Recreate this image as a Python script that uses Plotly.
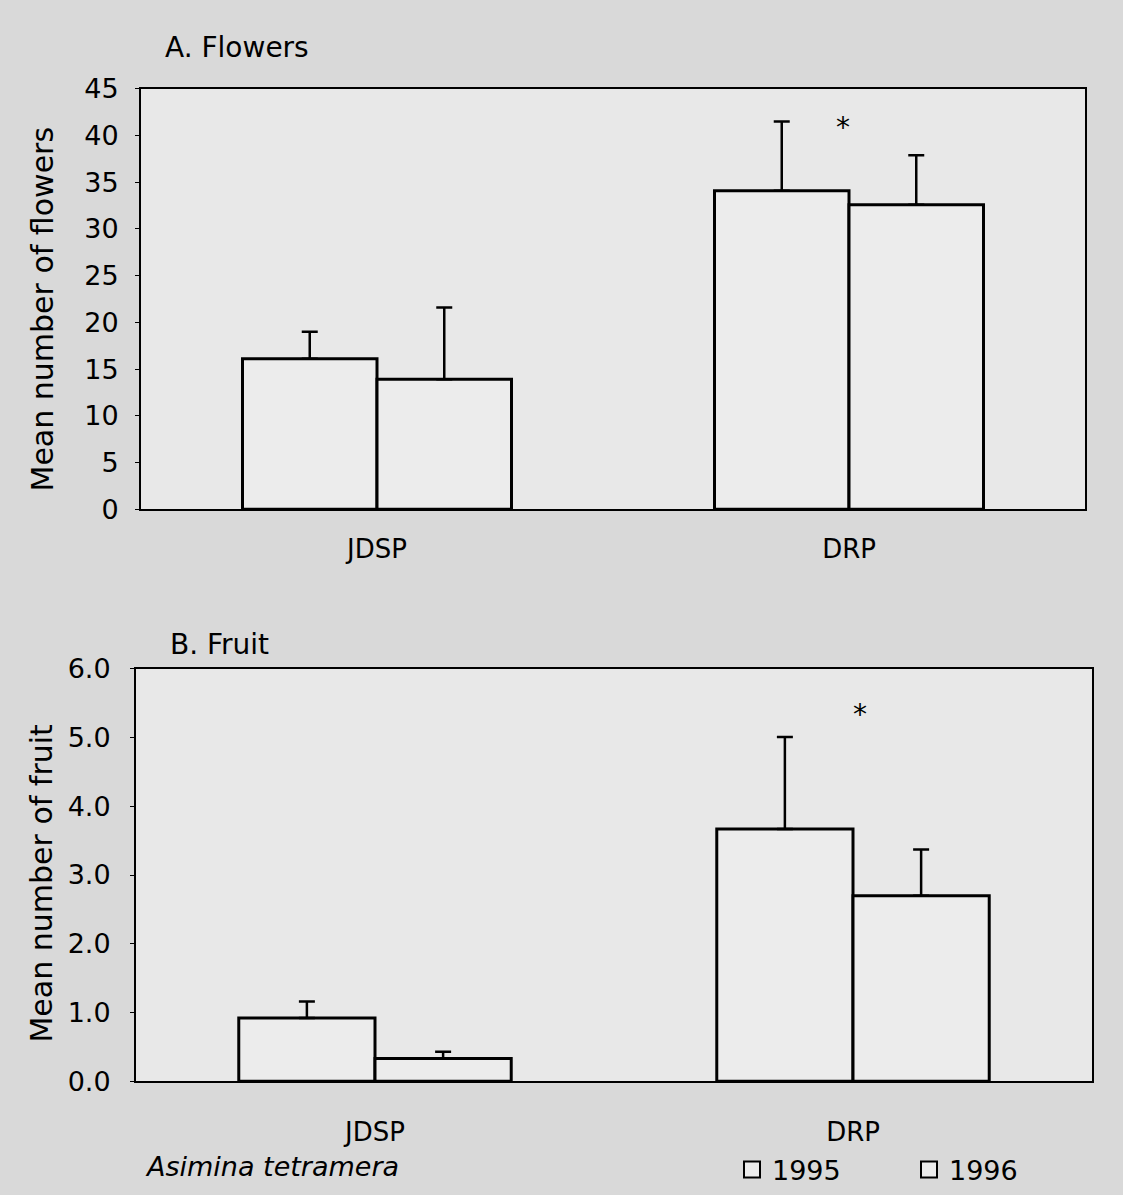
import plotly.graph_objects as go

# ---- data ----
sites = ["JDSP", "DRP"]
years = ["1995", "1996"]

flowers_1995 = [16.1, 34.1]
flowers_1996 = [13.9, 32.6]
flowers_err_1995 = [2.9, 7.4]
flowers_err_1996 = [7.7, 5.3]

fruit_1995 = [0.92, 3.67]
fruit_1996 = [0.33, 2.70]
fruit_err_1995 = [0.24, 1.34]
fruit_err_1996 = [0.10, 0.67]

flowers_ticks = [0, 5, 10, 15, 20, 25, 30, 35, 40, 45]
fruit_ticks = [0.0, 1.0, 2.0, 3.0, 4.0, 5.0, 6.0]

FONT = "DejaVu Sans"
PAPER = "#d9d9d9"
PLOT = "#e8e8e8"
BARFILL = "#ececec"

W, H = 1123, 1195


def px_x(p):
    return p / W


def px_y(p):
    return 1 - p / H


fig = go.Figure()


def add_bars(vals, errs, name, xa, ya):
    fig.add_trace(go.Bar(
        x=sites, y=vals, name=name,
        xaxis=xa, yaxis=ya,
        legendgroup=name, showlegend=False,
        marker=dict(color=BARFILL, line=dict(color="black", width=3)),
        error_y=dict(type="data", array=errs, arrayminus=[0] * len(errs),
                     symmetric=False, color="black", thickness=2.5, width=8),
    ))


add_bars(flowers_1995, flowers_err_1995, years[0], "x", "y")
add_bars(flowers_1996, flowers_err_1996, years[1], "x", "y")
add_bars(fruit_1995, fruit_err_1995, years[0], "x2", "y2")
add_bars(fruit_1996, fruit_err_1996, years[1], "x2", "y2")

# legend entries (square keys)
for yr in years:
    fig.add_trace(go.Scatter(
        x=[None], y=[None], mode="markers", name=yr, legendgroup=yr,
        marker=dict(symbol="square", size=17, color=BARFILL,
                    line=dict(color="black", width=2)),
        showlegend=True,
    ))

axis_common = dict(showline=True, linecolor="black", linewidth=2, mirror=True,
                   showgrid=False, zeroline=False, automargin=False)

fig.update_layout(
    width=W, height=H,
    margin=dict(l=0, r=0, t=0, b=0),
    paper_bgcolor=PAPER, plot_bgcolor=PLOT,
    barmode="group", bargap=0.43, bargroupgap=0,
    font=dict(family=FONT, size=27, color="black"),
    xaxis=dict(domain=[px_x(141), px_x(1085)], anchor="y",
               ticks="", tickfont=dict(size=26), ticklabelstandoff=16,
               **axis_common),
    yaxis=dict(domain=[px_y(510), px_y(89)], anchor="x", range=[0, 45],
               tickvals=flowers_ticks, ticks="outside", ticklen=4,
               tickcolor="black", tickfont=dict(size=27), ticklabelstandoff=11,
               **axis_common),
    xaxis2=dict(domain=[px_x(136), px_x(1092)], anchor="y2",
                ticks="", tickfont=dict(size=26), ticklabelstandoff=27,
                **axis_common),
    yaxis2=dict(domain=[px_y(1083), px_y(670)], anchor="x2", range=[0, 6],
                tickvals=fruit_ticks, tickformat=".1f", ticks="outside",
                ticklen=4, tickcolor="black", tickfont=dict(size=27),
                ticklabelstandoff=14, **axis_common),
    legend=dict(orientation="h", x=px_x(732), y=px_y(1172), yanchor="middle",
                xanchor="left", bgcolor="rgba(0,0,0,0)",
                font=dict(size=27), itemwidth=30,
                entrywidthmode="pixels", entrywidth=132),
    annotations=[
        dict(text="A. Flowers", xref="paper", yref="paper",
             x=px_x(163), y=px_y(48), xanchor="left", yanchor="middle",
             showarrow=False, font=dict(size=28)),
        dict(text="B. Fruit", xref="paper", yref="paper",
             x=px_x(168), y=px_y(646), xanchor="left", yanchor="middle",
             showarrow=False, font=dict(size=28)),
        dict(text="Mean number of flowers", xref="paper", yref="paper",
             x=px_x(42), y=px_y(310), xanchor="center", yanchor="middle",
             textangle=-90, showarrow=False, font=dict(size=30)),
        dict(text="Mean number of fruit", xref="paper", yref="paper",
             x=px_x(42), y=px_y(885), xanchor="center", yanchor="middle",
             textangle=-90, showarrow=False, font=dict(size=30)),
        dict(text="<i>Asimina tetramera</i>", xref="paper", yref="paper",
             x=px_x(143), y=px_y(1168), xanchor="left", yanchor="middle",
             showarrow=False, font=dict(size=27)),
        dict(text="*", xref="x", yref="y", x="DRP", y=41.5, xshift=-6,
             yshift=-6, showarrow=False, font=dict(size=28)),
        dict(text="*", xref="x2", yref="y2", x="DRP", y=5.42, xshift=7,
             yshift=-6, showarrow=False, font=dict(size=28)),
    ],
)

fig.write_html("out.html",
               config={"displayModeBar": False},
               post_script="document.body.style.margin='0';")
